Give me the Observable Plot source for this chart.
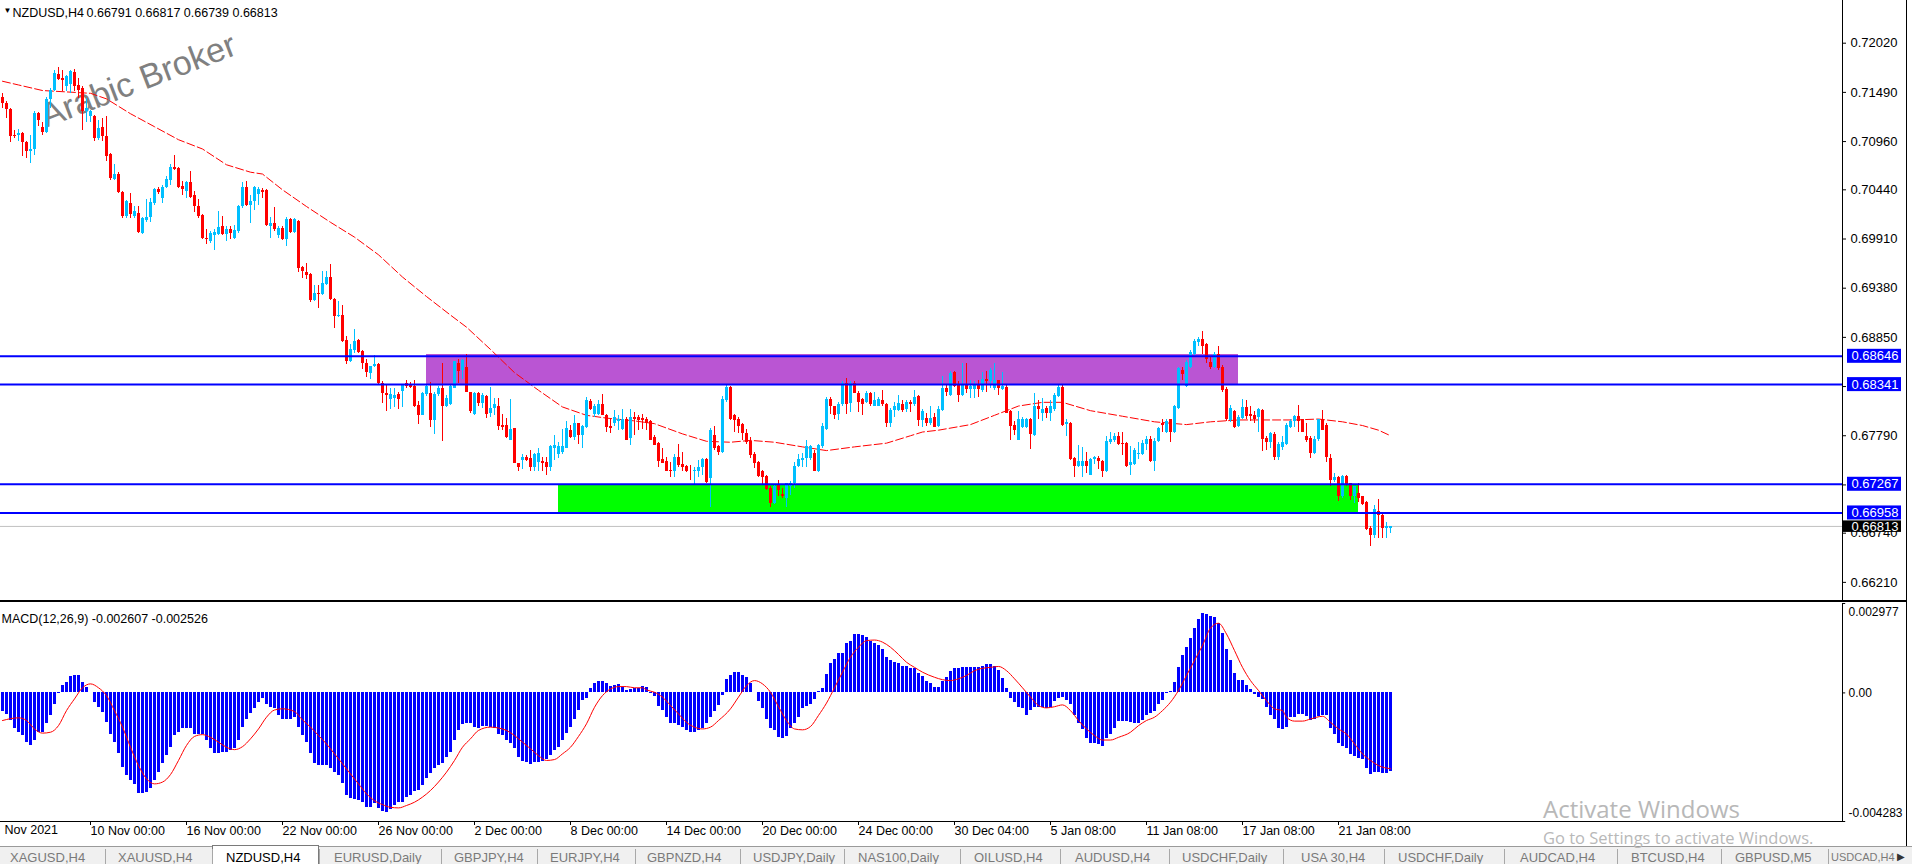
<!DOCTYPE html>
<html><head><meta charset="utf-8">
<script src="https://cdn.jsdelivr.net/npm/d3@7"></script>
<script src="https://cdn.jsdelivr.net/npm/@observablehq/plot@0.6"></script>
<style>
html,body{margin:0;padding:0;background:#fff;}
#wrap{position:relative;width:1912px;height:864px;overflow:hidden;background:#fff;font-family:"Liberation Sans",Arial,sans-serif;}
#main{position:absolute;left:0;top:0;}
#macd{position:absolute;left:0;top:600px;}
#main svg,#macd svg{display:block;}
.abs{position:absolute;}
.tab{position:absolute;top:850px;font-size:13px;line-height:15px;color:#7a7a7a;white-space:nowrap;}
.sep{position:absolute;top:849px;width:1px;height:15px;background:#a8a8a8;}
.win{position:absolute;font-family:"Open Sans","Liberation Sans",sans-serif;color:#b8b8b8;white-space:nowrap;}
</style></head>
<body><div id="wrap">
<div id="main"></div>
<div id="macd"></div>
</div>
<script>
// ---------------- DATA ----------------
const symbolTitle = "NZDUSD,H4";
const lastOHLC = "0.66791 0.66817 0.66739 0.66813";
const macdTitle = "MACD(12,26,9) -0.002607 -0.002526";
const watermark = "Arabic Broker";

const open = [
0.7144,0.7137,0.7131,0.7103,0.7103,0.7105,0.7095,0.7085,0.7087,0.7126,
0.7111,0.7106,0.7141,0.7151,0.7168,0.7164,0.7155,0.7157,0.7170,0.7156,
0.7153,0.7128,0.7123,0.7123,0.7099,0.7111,0.7101,0.7082,0.7055,0.7060,
0.7041,0.7015,0.7029,0.7015,0.7018,0.6997,0.7011,0.7014,0.7029,0.7044,
0.7035,0.7047,0.7054,0.7068,0.7067,0.7048,0.7042,0.7052,0.7038,0.7026,
0.7016,0.6992,0.6988,0.6995,0.6996,0.7004,0.6996,0.7001,0.6992,0.6999,
0.7026,0.7046,0.7027,0.7031,0.7039,0.7043,0.7043,0.7005,0.7008,0.6995,
0.7002,0.6990,0.7012,0.6998,0.7010,0.6960,0.6955,0.6953,0.6925,0.6932,
0.6931,0.6942,0.6950,0.6926,0.6907,0.6909,0.6882,0.6859,0.6871,0.6882,
0.6870,0.6857,0.6846,0.6854,0.6856,0.6835,0.6825,0.6818,0.6819,0.6823,
0.6827,0.6835,0.6833,0.6832,0.6812,0.6801,0.6823,0.6825,0.6795,0.6823,
0.6830,0.6810,0.6813,0.6830,0.6857,0.6849,0.6853,0.6826,0.6802,0.6824,
0.6814,0.6821,0.6803,0.6808,0.6811,0.6790,0.6790,0.6774,0.6787,0.6749,
0.6752,0.6756,0.6754,0.6745,0.6750,0.6751,0.6750,0.6745,0.6765,0.6759,
0.6761,0.6765,0.6785,0.6777,0.6792,0.6779,0.6788,0.6816,0.6802,0.6802,
0.6813,0.6801,0.6789,0.6792,0.6794,0.6786,0.6797,0.6776,0.6799,0.6799,
0.6798,0.6797,0.6794,0.6777,0.6771,0.6753,0.6751,0.6742,0.6740,0.6756,
0.6748,0.6746,0.6741,0.6740,0.6741,0.6745,0.6753,0.6733,0.6779,0.6767,
0.6761,0.6817,0.6831,0.6801,0.6797,0.6791,0.6781,0.6773,0.6759,0.6750,
0.6741,0.6735,0.6722,0.6706,0.6725,0.6716,0.6711,0.6724,0.6727,0.6746,
0.6752,0.6754,0.6755,0.6760,0.6741,0.6767,0.6786,0.6818,0.6810,0.6802,
0.6813,0.6835,0.6814,0.6835,0.6825,0.6818,0.6815,0.6825,0.6811,0.6811,
0.6817,0.6813,0.6792,0.6806,0.6806,0.6813,0.6807,0.6815,0.6813,0.6821,
0.6795,0.6798,0.6792,0.6799,0.6789,0.6806,0.6830,0.6822,0.6847,0.6834,
0.6822,0.6834,0.6829,0.6829,0.6833,0.6828,0.6840,0.6837,0.6830,0.6838,
0.6829,0.6831,0.6805,0.6790,0.6774,0.6788,0.6788,0.6797,0.6779,0.6810,
0.6803,0.6808,0.6803,0.6807,0.6821,0.6831,0.6791,0.6792,0.6754,0.6746,
0.6746,0.6751,0.6736,0.6753,0.6755,0.6751,0.6740,0.6772,0.6774,0.6778,
0.6771,0.6771,0.6747,0.6748,0.6759,0.6759,0.6770,0.6775,0.6751,0.6773,
0.6792,0.6783,0.6796,0.6782,0.6808,0.6849,0.6832,0.6853,0.6867,0.6880,
0.6883,0.6877,0.6858,0.6853,0.6867,0.6853,0.6829,0.6795,0.6805,0.6789,
0.6798,0.6809,0.6802,0.6801,0.6799,0.6806,0.6776,0.6772,0.6780,0.6756,
0.6766,0.6770,0.6788,0.6794,0.6800,0.6796,0.6778,0.6776,0.6760,0.6775,
0.6796,0.6790,0.6755,0.6731,0.6734,0.6714,0.6735,0.6727,0.6713,0.6717,
0.6713,0.6707,0.6679,0.6671,0.6697,0.6693,0.6679,0.66791];

const high = [
0.7148,0.7139,0.7132,0.7108,0.7109,0.7106,0.7096,0.7103,0.7128,0.7127,
0.7117,0.7144,0.7153,0.7173,0.7176,0.7173,0.7167,0.7173,0.7174,0.7164,
0.7155,0.7142,0.7130,0.7124,0.7119,0.7121,0.7123,0.7083,0.7071,0.7063,
0.7042,0.7033,0.7040,0.7026,0.7026,0.7014,0.7034,0.7035,0.7045,0.7047,
0.7049,0.7058,0.7071,0.7081,0.7068,0.7053,0.7053,0.7064,0.7042,0.7034,
0.7017,0.7001,0.6999,0.7001,0.7021,0.7015,0.7004,0.7005,0.7006,0.7027,
0.7052,0.7053,0.7038,0.7048,0.7046,0.7045,0.7044,0.7014,0.7025,0.7005,
0.7004,0.7014,0.7013,0.7013,0.7011,0.6961,0.6965,0.6954,0.6941,0.6941,
0.6956,0.6956,0.6964,0.6927,0.6924,0.6919,0.6886,0.6877,0.6894,0.6883,
0.6871,0.6861,0.6854,0.6866,0.6857,0.6837,0.6834,0.6830,0.6830,0.6826,
0.6834,0.6839,0.6836,0.6838,0.6816,0.6826,0.6834,0.6836,0.6826,0.6832,
0.6857,0.6822,0.6834,0.6859,0.6861,0.6861,0.6867,0.6826,0.6826,0.6826,
0.6824,0.6822,0.6831,0.6819,0.6819,0.6802,0.6798,0.6818,0.6787,0.6749,
0.6759,0.6758,0.6763,0.6760,0.6765,0.6756,0.6756,0.6768,0.6779,0.6772,
0.6786,0.6794,0.6790,0.6801,0.6792,0.6790,0.6820,0.6818,0.6813,0.6817,
0.6823,0.6802,0.6797,0.6806,0.6801,0.6807,0.6799,0.6807,0.6804,0.6801,
0.6802,0.6799,0.6795,0.6779,0.6772,0.6765,0.6756,0.6750,0.6759,0.6770,
0.6761,0.6747,0.6747,0.6745,0.6752,0.6755,0.6754,0.6787,0.6789,0.6769,
0.6821,0.6834,0.6832,0.6802,0.6799,0.6792,0.6786,0.6777,0.6761,0.6751,
0.6742,0.6736,0.6724,0.6726,0.6731,0.6722,0.6728,0.6730,0.6750,0.6759,
0.6760,0.6774,0.6769,0.6763,0.6770,0.6792,0.6820,0.6820,0.6811,0.6815,
0.6837,0.6841,0.6837,0.6837,0.6827,0.6819,0.6827,0.6826,0.6826,0.6820,
0.6828,0.6814,0.6808,0.6815,0.6822,0.6817,0.6817,0.6817,0.6828,0.6822,
0.6807,0.6803,0.6810,0.6803,0.6811,0.6843,0.6833,0.6848,0.6848,0.6837,
0.6857,0.6857,0.6838,0.6837,0.6839,0.6847,0.6848,0.6851,0.6857,0.6838,
0.6847,0.6833,0.6806,0.6794,0.6805,0.6799,0.6798,0.6798,0.6824,0.6817,
0.6819,0.6811,0.6817,0.6824,0.6833,0.6833,0.6796,0.6793,0.6756,0.6769,
0.6766,0.6761,0.6754,0.6757,0.6757,0.6752,0.6778,0.6782,0.6781,0.6782,
0.6782,0.6772,0.6767,0.6765,0.6772,0.6774,0.6778,0.6778,0.6776,0.6788,
0.6796,0.6796,0.6797,0.6812,0.6853,0.6853,0.6860,0.6871,0.6883,0.6885,
0.6891,0.6878,0.6864,0.6869,0.6875,0.6855,0.6831,0.6812,0.6806,0.6801,
0.6818,0.6817,0.6810,0.6805,0.6808,0.6807,0.6778,0.6783,0.6782,0.6772,
0.6778,0.6792,0.6796,0.6801,0.6812,0.6797,0.6792,0.6778,0.6778,0.6797,
0.6806,0.6792,0.6759,0.6738,0.6735,0.6736,0.6736,0.6727,0.6724,0.6727,
0.6714,0.6708,0.6681,0.6704,0.6710,0.6694,0.6686,0.66817];

const low = [
0.7132,0.7121,0.7095,0.7099,0.7096,0.7080,0.7078,0.7072,0.7081,0.7112,
0.7103,0.7105,0.7132,0.7150,0.7162,0.7150,0.7150,0.7148,0.7150,0.7142,
0.7108,0.7117,0.7117,0.7096,0.7097,0.7096,0.7075,0.7054,0.7054,0.7040,
0.7013,0.7013,0.7013,0.7013,0.6997,0.6996,0.7009,0.7009,0.7027,0.7039,
0.7029,0.7045,0.7049,0.7065,0.7045,0.7038,0.7035,0.7035,0.7020,0.7013,
0.6991,0.6985,0.6986,0.6979,0.6995,0.6995,0.6988,0.6990,0.6991,0.6997,
0.7024,0.7026,0.7008,0.7022,0.7027,0.7035,0.7004,0.6992,0.6999,0.6992,
0.6989,0.6983,0.6997,0.6997,0.6955,0.6948,0.6947,0.6923,0.6924,0.6916,
0.6930,0.6941,0.6925,0.6895,0.6906,0.6880,0.6856,0.6858,0.6868,0.6868,
0.6850,0.6842,0.6840,0.6853,0.6834,0.6814,0.6805,0.6807,0.6809,0.6807,
0.6809,0.6830,0.6830,0.6809,0.6791,0.6801,0.6821,0.6788,0.6780,0.6821,
0.6773,0.6809,0.6812,0.6830,0.6835,0.6840,0.6826,0.6803,0.6801,0.6811,
0.6808,0.6798,0.6799,0.6801,0.6785,0.6785,0.6776,0.6774,0.6749,0.6741,
0.6743,0.6751,0.6740,0.6741,0.6741,0.6740,0.6736,0.6740,0.6752,0.6754,
0.6759,0.6765,0.6776,0.6774,0.6770,0.6765,0.6787,0.6806,0.6799,0.6801,
0.6801,0.6783,0.6781,0.6789,0.6785,0.6785,0.6774,0.6768,0.6779,0.6785,
0.6786,0.6785,0.6774,0.6769,0.6745,0.6749,0.6741,0.6734,0.6734,0.6745,
0.6740,0.6739,0.6731,0.6726,0.6734,0.6736,0.6727,0.6702,0.6763,0.6758,
0.6760,0.6815,0.6795,0.6783,0.6781,0.6774,0.6770,0.6754,0.6744,0.6734,
0.6725,0.6720,0.6702,0.6705,0.6713,0.6711,0.6702,0.6715,0.6722,0.6745,
0.6745,0.6745,0.6752,0.6740,0.6739,0.6765,0.6785,0.6802,0.6796,0.6795,
0.6810,0.6802,0.6804,0.6824,0.6804,0.6801,0.6814,0.6810,0.6810,0.6810,
0.6811,0.6788,0.6788,0.6799,0.6805,0.6804,0.6804,0.6804,0.6811,0.6789,
0.6788,0.6789,0.6790,0.6788,0.6788,0.6805,0.6821,0.6821,0.6831,0.6815,
0.6821,0.6824,0.6819,0.6819,0.6820,0.6826,0.6826,0.6830,0.6828,0.6822,
0.6828,0.6803,0.6774,0.6779,0.6774,0.6787,0.6787,0.6764,0.6778,0.6797,
0.6794,0.6798,0.6794,0.6805,0.6820,0.6789,0.6778,0.6752,0.6734,0.6745,
0.6734,0.6738,0.6736,0.6748,0.6743,0.6734,0.6739,0.6770,0.6772,0.6769,
0.6758,0.6745,0.6736,0.6747,0.6753,0.6758,0.6763,0.6750,0.6740,0.6772,
0.6783,0.6781,0.6772,0.6781,0.6807,0.6839,0.6831,0.6851,0.6866,0.6875,
0.6867,0.6857,0.6850,0.6851,0.6849,0.6826,0.6794,0.6793,0.6787,0.6788,
0.6797,0.6796,0.6794,0.6792,0.6783,0.6762,0.6763,0.6765,0.6752,0.6752,
0.6763,0.6769,0.6787,0.6788,0.6783,0.6782,0.6772,0.6754,0.6759,0.6773,
0.6785,0.6750,0.6724,0.6729,0.6708,0.6711,0.6724,0.6709,0.6706,0.6707,
0.6704,0.6677,0.6660,0.6668,0.6668,0.6668,0.6668,0.66739];

const close = [
0.7137,0.7131,0.7101,0.7101,0.7105,0.7095,0.7085,0.7087,0.7126,0.7119,
0.7106,0.7141,0.7151,0.7169,0.7163,0.7162,0.7166,0.7171,0.7155,0.7151,
0.7128,0.7132,0.7128,0.7099,0.7110,0.7101,0.7080,0.7056,0.7060,0.7041,
0.7015,0.7031,0.7017,0.7021,0.6998,0.7013,0.7014,0.7030,0.7044,0.7041,
0.7047,0.7055,0.7068,0.7066,0.7046,0.7044,0.7052,0.7036,0.7026,0.7015,
0.6992,0.6990,0.6997,0.6998,0.7003,0.6996,0.7001,0.6997,0.7000,0.7026,
0.7046,0.7027,0.7031,0.7046,0.7044,0.7041,0.7006,0.7008,0.7001,0.7002,
0.6990,0.7012,0.6998,0.7012,0.6959,0.6956,0.6952,0.6925,0.6932,0.6931,
0.6943,0.6950,0.6926,0.6907,0.6909,0.6881,0.6859,0.6872,0.6881,0.6869,
0.6857,0.6847,0.6854,0.6856,0.6835,0.6825,0.6822,0.6823,0.6822,0.6818,
0.6834,0.6832,0.6831,0.6811,0.6801,0.6824,0.6832,0.6795,0.6823,0.6830,
0.6810,0.6819,0.6832,0.6859,0.6848,0.6860,0.6826,0.6805,0.6825,0.6814,
0.6822,0.6802,0.6808,0.6813,0.6789,0.6788,0.6777,0.6786,0.6749,0.6745,
0.6756,0.6752,0.6745,0.6759,0.6760,0.6749,0.6745,0.6767,0.6768,0.6767,
0.6767,0.6787,0.6777,0.6792,0.6779,0.6789,0.6817,0.6807,0.6811,0.6813,
0.6801,0.6788,0.6787,0.6799,0.6797,0.6797,0.6774,0.6799,0.6796,0.6795,
0.6795,0.6792,0.6774,0.6769,0.6751,0.6749,0.6741,0.6741,0.6756,0.6747,
0.6745,0.6741,0.6740,0.6742,0.6745,0.6753,0.6729,0.6785,0.6765,0.6761,
0.6818,0.6831,0.6796,0.6795,0.6789,0.6781,0.6772,0.6758,0.6749,0.6735,
0.6734,0.6721,0.6706,0.6724,0.6720,0.6713,0.6727,0.6728,0.6746,0.6753,
0.6755,0.6767,0.6767,0.6741,0.6768,0.6789,0.6818,0.6810,0.6801,0.6813,
0.6835,0.6813,0.6835,0.6825,0.6815,0.6813,0.6825,0.6813,0.6817,0.6818,
0.6813,0.6792,0.6806,0.6810,0.6814,0.6806,0.6815,0.6813,0.6820,0.6795,
0.6805,0.6792,0.6798,0.6788,0.6807,0.6830,0.6826,0.6846,0.6832,0.6822,
0.6834,0.6829,0.6832,0.6834,0.6829,0.6840,0.6837,0.6849,0.6838,0.6830,
0.6832,0.6803,0.6789,0.6785,0.6797,0.6797,0.6797,0.6780,0.6810,0.6807,
0.6807,0.6803,0.6810,0.6822,0.6831,0.6790,0.6793,0.6753,0.6746,0.6751,
0.6751,0.6746,0.6753,0.6756,0.6751,0.6740,0.6773,0.6775,0.6778,0.6770,
0.6770,0.6746,0.6750,0.6763,0.6760,0.6771,0.6775,0.6751,0.6773,0.6787,
0.6790,0.6794,0.6782,0.6811,0.6851,0.6845,0.6858,0.6869,0.6881,0.6883,
0.6875,0.6861,0.6853,0.6867,0.6851,0.6828,0.6796,0.6808,0.6788,0.6799,
0.6809,0.6800,0.6800,0.6796,0.6807,0.6775,0.6772,0.6781,0.6756,0.6770,
0.6772,0.6790,0.6794,0.6800,0.6794,0.6783,0.6774,0.6760,0.6775,0.6796,
0.6785,0.6756,0.6731,0.6734,0.6714,0.6735,0.6725,0.6713,0.6724,0.6711,
0.6705,0.6678,0.6671,0.6699,0.6693,0.6679,0.6681,0.66813];

// dashed moving average (bar index, price)
const maIdx = [0,4,10,22,26,32,38,44,50,56,62,65,70,76,82,88,94,100,106,112,116,122,128,134,140,146,151,158,163,170,176,182,187,193,200,206,213,221,227,230,234,242,248,254,260,265,272,280,288,296,302,309,317,323,329,335,340,344,347];
const maVal = [0.7161,0.7157,0.7151,0.7148,0.7142,0.7126,0.7112,0.7098,0.7088,0.7071,0.7063,0.7061,0.7044,0.7026,0.7009,0.6993,0.6974,0.6950,0.6929,0.6909,0.6896,0.6872,0.6847,0.6828,0.6810,0.6801,0.6798,0.6795,0.6792,0.6781,0.6773,0.6772,0.6774,0.6772,0.6767,0.6763,0.6767,0.6771,0.6779,0.6783,0.6785,0.6791,0.6801,0.6811,0.6815,0.6815,0.6806,0.6800,0.6794,0.6791,0.6794,0.6796,0.6796,0.6796,0.6797,0.6794,0.6790,0.6785,0.6779];

// horizontal levels, zones, current price
const levels = [0.68646, 0.68341, 0.67267, 0.66958];
const currentPrice = 0.66813;
const zoneStart = [106, 139];
const zoneEnd = [309, 339];
const zoneTop = [0.68665, 0.67267];
const zoneBottom = [0.68330, 0.66958];
const zoneColor = ["#BA55D3", "#00FF00"];
const priceTicks = [0.72020,0.71490,0.70960,0.70440,0.69910,0.69380,0.68850,0.68320,0.67790,0.67260,0.66740,0.66210];

// MACD histogram (main line), one per bar
const macdHist = [
-0.00062,-0.00073,-0.00092,-0.00118,-0.00131,-0.00142,-0.00164,-0.00175,-0.00157,-0.00131,
-0.00131,-0.00103,-0.00075,-0.00037,-0.00001,0.00024,0.00036,0.00054,0.00058,0.00058,
0.00036,0.00017,0.00002,-0.00031,-0.00048,-0.00064,-0.00098,-0.00137,-0.00164,-0.00201,
-0.00248,-0.00275,-0.00292,-0.00305,-0.00334,-0.00336,-0.00331,-0.00320,-0.00292,-0.00264,
-0.00236,-0.00209,-0.00181,-0.00142,-0.00131,-0.00120,-0.00120,-0.00120,-0.00137,-0.00140,
-0.00140,-0.00159,-0.00186,-0.00203,-0.00203,-0.00198,-0.00198,-0.00192,-0.00186,-0.00159,
-0.00114,-0.00087,-0.00070,-0.00053,-0.00033,-0.00020,-0.00037,-0.00048,-0.00053,-0.00075,
-0.00087,-0.00087,-0.00087,-0.00081,-0.00114,-0.00142,-0.00164,-0.00203,-0.00236,-0.00242,
-0.00242,-0.00242,-0.00253,-0.00264,-0.00275,-0.00303,-0.00342,-0.00353,-0.00355,-0.00359,
-0.00364,-0.00381,-0.00381,-0.00370,-0.00386,-0.00394,-0.00397,-0.00390,-0.00375,-0.00364,
-0.00364,-0.00347,-0.00342,-0.00329,-0.00325,-0.00309,-0.00286,-0.00270,-0.00253,-0.00242,
-0.00236,-0.00214,-0.00198,-0.00159,-0.00125,-0.00105,-0.00101,-0.00101,-0.00114,-0.00117,
-0.00112,-0.00112,-0.00114,-0.00120,-0.00137,-0.00142,-0.00157,-0.00170,-0.00186,-0.00214,
-0.00228,-0.00231,-0.00240,-0.00231,-0.00231,-0.00229,-0.00223,-0.00209,-0.00192,-0.00181,
-0.00159,-0.00134,-0.00114,-0.00089,-0.00059,-0.00026,-0.00020,0.00013,0.00030,0.00039,
0.00039,0.00032,0.00021,0.00024,0.00027,0.00017,0.00008,0.00011,0.00016,0.00016,
0.00021,0.00017,-0.00001,-0.00012,-0.00046,-0.00059,-0.00081,-0.00101,-0.00103,-0.00109,
-0.00114,-0.00125,-0.00131,-0.00131,-0.00125,-0.00117,-0.00103,-0.00083,-0.00061,-0.00042,
-0.00009,0.00044,0.00058,0.00069,0.00069,0.00058,0.00050,0.00030,0.00002,-0.00029,
-0.00053,-0.00087,-0.00118,-0.00125,-0.00148,-0.00153,-0.00145,-0.00120,-0.00103,-0.00081,
-0.00053,-0.00046,-0.00039,-0.00023,0.00006,0.00013,0.00061,0.00097,0.00110,0.00130,
0.00130,0.00163,0.00172,0.00193,0.00193,0.00191,0.00183,0.00172,0.00163,0.00158,
0.00143,0.00117,0.00108,0.00102,0.00099,0.00088,0.00088,0.00080,0.00080,0.00065,
0.00054,0.00039,0.00032,0.00017,0.00017,0.00038,0.00050,0.00072,0.00080,0.00082,
0.00083,0.00083,0.00083,0.00083,0.00085,0.00088,0.00093,0.00094,0.00088,0.00074,
0.00047,0.00013,-0.00018,-0.00031,-0.00048,-0.00053,-0.00075,-0.00059,-0.00050,-0.00050,
-0.00050,-0.00053,-0.00050,-0.00028,-0.00020,-0.00014,-0.00026,-0.00039,-0.00075,-0.00103,
-0.00123,-0.00153,-0.00170,-0.00170,-0.00172,-0.00179,-0.00153,-0.00137,-0.00120,-0.00094,
-0.00094,-0.00094,-0.00098,-0.00103,-0.00103,-0.00092,-0.00075,-0.00070,-0.00062,-0.00037,
-0.00026,-0.00003,0.00006,0.00036,0.00085,0.00124,0.00152,0.00180,0.00216,0.00243,
0.00263,0.00261,0.00255,0.00250,0.00230,0.00199,0.00143,0.00108,0.00065,0.00041,
0.00041,0.00024,0.00010,-0.00006,-0.00014,-0.00023,-0.00050,-0.00075,-0.00090,-0.00120,
-0.00123,-0.00114,-0.00083,-0.00081,-0.00072,-0.00072,-0.00079,-0.00092,-0.00087,-0.00079,
-0.00075,-0.00075,-0.00117,-0.00137,-0.00168,-0.00179,-0.00186,-0.00205,-0.00212,-0.00220,
-0.00223,-0.00253,-0.00272,-0.00264,-0.00264,-0.00268,-0.00268,-0.002607];

// MACD signal line (bar index, value)
const sigIdx = [0,4,6,8,10,12,14,16,18,20,22,24,26,28,30,32,34,36,38,40,42,44,46,48,50,52,54,56,58,60,62,64,66,68,70,73,75,77,79,81,83,85,87,89,91,93,95,97,99,101,103,105,107,109,111,113,115,117,119,122,124,126,128,130,132,134,136,138,140,142,144,146,148,150,152,154,156,158,160,161,163,165,167,169,171,173,175,177,179,182,184,186,188,190,192,194,196,198,200,202,204,206,208,210,212,214,216,218,220,222,224,226,228,230,233,235,237,239,241,243,245,247,249,251,253,255,257,259,261,263,265,267,269,271,273,275,277,279,282,284,286,288,290,292,294,296,298,300,302,304,306,308,310,312,314,316,318,320,321,323,325,327,330,332,334,336,338,340,342,344,347];
const sigVal = [-0.00092,-0.00083,-0.00092,-0.00120,-0.00134,-0.00131,-0.00109,-0.00059,-0.00020,0.00017,0.00030,0.00017,-0.00009,-0.00059,-0.00114,-0.00181,-0.00242,-0.00286,-0.00303,-0.00297,-0.00272,-0.00225,-0.00175,-0.00145,-0.00139,-0.00148,-0.00164,-0.00181,-0.00189,-0.00179,-0.00153,-0.00120,-0.00081,-0.00057,-0.00053,-0.00062,-0.00090,-0.00114,-0.00142,-0.00170,-0.00203,-0.00236,-0.00270,-0.00303,-0.00336,-0.00359,-0.00372,-0.00381,-0.00383,-0.00375,-0.00364,-0.00347,-0.00325,-0.00297,-0.00264,-0.00225,-0.00181,-0.00153,-0.00125,-0.00114,-0.00117,-0.00125,-0.00142,-0.00164,-0.00186,-0.00209,-0.00225,-0.00222,-0.00203,-0.00181,-0.00145,-0.00103,-0.00048,-0.00009,0.00013,0.00021,0.00021,0.00017,0.00017,0.00010,0.00002,-0.00014,-0.00042,-0.00070,-0.00098,-0.00114,-0.00120,-0.00114,-0.00092,-0.00053,-0.00014,0.00024,0.00041,0.00030,0.00002,-0.00046,-0.00092,-0.00120,-0.00123,-0.00112,-0.00075,-0.00034,0.00017,0.00069,0.00119,0.00152,0.00174,0.00176,0.00169,0.00152,0.00128,0.00102,0.00085,0.00069,0.00052,0.00044,0.00041,0.00047,0.00058,0.00074,0.00082,0.00085,0.00088,0.00074,0.00047,0.00017,-0.00014,-0.00042,-0.00050,-0.00046,-0.00040,-0.00059,-0.00092,-0.00120,-0.00142,-0.00157,-0.00157,-0.00148,-0.00131,-0.00109,-0.00092,-0.00081,-0.00059,-0.00031,0.00008,0.00058,0.00108,0.00158,0.00216,0.00232,0.00196,0.00141,0.00085,0.00041,0.00008,-0.00026,-0.00053,-0.00059,-0.00081,-0.00094,-0.00094,-0.00087,-0.00078,-0.00098,-0.00120,-0.00137,-0.00170,-0.00203,-0.00225,-0.00242,-0.002526];
const macdMax = 0.002977, macdMin = -0.004283;

// time axis
const timeTicks = [22,46,70,94,118,142,166,190,214,238,262,286,310,334];
const timeLabels = ["10 Nov 00:00","16 Nov 00:00","22 Nov 00:00","26 Nov 00:00","2 Dec 00:00","8 Dec 00:00","14 Dec 00:00","20 Dec 00:00","24 Dec 00:00","30 Dec 04:00","5 Jan 08:00","11 Jan 08:00","17 Jan 08:00","21 Jan 08:00"];
const firstTimeLabel = "Nov 2021";

// terminal tabs
const tabNames = ["XAGUSD,H4","XAUUSD,H4","NZDUSD,H4","EURUSD,Daily","GBPJPY,H4","EURJPY,H4","GBPNZD,H4","USDJPY,Daily","NAS100,Daily","OILUSD,H4","AUDUSD,H4","USDCHF,Daily","USA 30,H4","USDCHF,Daily","AUDCAD,H4","BTCUSD,H4","GBPUSD,M5","USDCAD,H4"];
const tabX = [10,118,226,334,454,550,647,753,858,974,1075,1182,1301,1398,1520,1631,1735,1831];
const tabSeps = [105,212,319,441,537,635,740,844,960,1060,1169,1283,1384,1504,1617,1721,1828];

// ---------------- CHART ----------------
const FONT = "'Liberation Sans', Arial, sans-serif";
const UP = "#00BFFF", DN = "#FF0000";
const candles = open.map((o, i) => ({i, o, h: high[i], l: low[i], c: close[i], col: close[i] >= o ? UP : DN}));
const ma = maIdx.map((x, k) => ({x, y: maVal[k]}));
const zones = zoneStart.map((s, k) => ({x1: s, x2: zoneEnd[k], y1: zoneBottom[k], y2: zoneTop[k], fill: zoneColor[k]}));
const pxPrice = 0.0001078; // price per pixel
const tagged = levels.map(v => ({v, y1: v - 7 * pxPrice, y2: v + 7 * pxPrice}));
const xDom = [-0.5, 460];
const LX = 461.25; // start of label boxes in the right margin

const mainChart = Plot.plot({
  width: 1912, height: 600,
  marginLeft: 0, marginRight: 70, marginTop: 0, marginBottom: 0,
  x: {type: "linear", domain: xDom, axis: null},
  y: {type: "linear", domain: [0.660146, 0.724801], axis: null},
  color: {type: "identity"},
  style: {fontFamily: FONT, fontSize: "13px", color: "black", background: "white", overflow: "visible"},
  marks: [
    Plot.rect(zones, {x1: "x1", x2: "x2", y1: "y1", y2: "y2", fill: "fill", shapeRendering: "crispEdges"}),
    Plot.ruleY([currentPrice], {stroke: "#C0C0C0", strokeWidth: 1}),
    Plot.text([{x: 34, y: 0.71617, t: watermark}], {x: "x", y: "y", text: "t", rotate: -21, fontSize: 34, fill: "#808080", textAnchor: "middle", fontFamily: FONT}),
    Plot.line(ma, {x: "x", y: "y", stroke: "#FF0000", strokeWidth: 1, strokeDasharray: "8,3"}),
    Plot.ruleX(candles, {x: "i", y1: "l", y2: "h", stroke: "col", strokeWidth: 1, shapeRendering: "crispEdges"}),
    Plot.ruleX(candles, {x: "i", y1: "o", y2: "c", stroke: "col", strokeWidth: 3, shapeRendering: "crispEdges"}),
    Plot.ruleY(levels, {stroke: "#0000FF", strokeWidth: 2}),
    Plot.ruleX([xDom[1]], {stroke: "black", strokeWidth: 1}),
    Plot.axisY({anchor: "right", ticks: priceTicks, tickFormat: d3.format(".5f"), tickSize: 3, tickPadding: 5, fontSize: 13}),
    Plot.rect(tagged, {x1: LX, x2: 474.75, y1: "y1", y2: "y2", fill: "#0000FF"}),
    Plot.text(tagged, {x: LX + 1, y: "v", text: d => d3.format(".5f")(d.v), fill: "white", textAnchor: "start", fontSize: 13}),
    Plot.rect([currentPrice], {x1: 460.25, x2: 474.75, y1: d => d - 6 * pxPrice, y2: d => d + 5.5 * pxPrice, fill: "black"}),
    Plot.text([currentPrice], {x: LX + 1, y: d => d, text: d => d3.format(".5f")(d), fill: "white", textAnchor: "start", fontSize: 13}),
    Plot.text(["\u25BC"], {frameAnchor: "top-left", dx: 3, dy: 7, fontSize: 8, fill: "black"}),
    Plot.text([symbolTitle], {frameAnchor: "top-left", dx: 12, dy: 8, textAnchor: "start", fontSize: 12.5, fill: "black"}),
    Plot.text([lastOHLC], {frameAnchor: "top-left", dx: 86, dy: 8, textAnchor: "start", fontSize: 12.5, fill: "black"})
  ]
});
document.getElementById("main").appendChild(mainChart);

const hist = macdHist.map((v, i) => ({i, v}));
const sig = sigIdx.map((x, k) => ({x, y: sigVal[k]}));
const labelOf = new Map(timeTicks.map((t, k) => [t, timeLabels[k]]));

const macdChart = Plot.plot({
  width: 1912, height: 246,
  marginLeft: 0, marginRight: 70, marginTop: 3, marginBottom: 25,
  x: {type: "linear", domain: xDom, axis: null},
  y: {type: "linear", domain: [macdMin, macdMax], axis: null},
  style: {fontFamily: FONT, fontSize: "13px", color: "black", background: "white", overflow: "visible"},
  marks: [
    Plot.ruleX(hist, {x: "i", y1: 0, y2: "v", stroke: "#0000FF", strokeWidth: 3, shapeRendering: "crispEdges"}),
    Plot.line(sig, {x: "x", y: "y", stroke: "#FF0000", strokeWidth: 1, curve: "monotone-x"}),
    Plot.ruleY([macdMin], {stroke: "black", strokeWidth: 1}),
    Plot.ruleX([xDom[1]], {stroke: "black", strokeWidth: 1}),
    Plot.ruleY([macdMax, 0, macdMin], {x1: xDom[1], x2: xDom[1] + 0.8, stroke: "black"}),
    Plot.text([macdMax], {x: 461.5, y: d => d, text: d => d.toFixed(6), textAnchor: "start", dy: 9, fontSize: 12, fill: "black"}),
    Plot.text([0], {x: 461.5, y: d => d, text: () => "0.00", textAnchor: "start", fontSize: 12, fill: "black"}),
    Plot.text([macdMin], {x: 461.5, y: d => d, text: d => d.toFixed(6), textAnchor: "start", dy: -8, fontSize: 12, fill: "black"}),
    Plot.text([macdTitle], {frameAnchor: "top-left", dx: 1, dy: 11, textAnchor: "start", fontSize: 12.5, fill: "black"}),
    Plot.axisX({anchor: "bottom", ticks: timeTicks, tickFormat: d => labelOf.get(d), tickSize: 4, tickPadding: 1, textAnchor: "start", fontSize: 12.5}),
    Plot.text([firstTimeLabel], {x: 0.5, frameAnchor: "bottom", dy: 12, textAnchor: "start", fontSize: 12.5, fill: "black"})
  ]
});
document.getElementById("macd").appendChild(macdChart);

// window chrome: separators, frame, tabs, OS watermark
const wrap = document.getElementById("wrap");
function addDiv(css, cls, text) {
  const d = document.createElement("div");
  if (cls) d.className = cls;
  d.style.cssText = css;
  if (text) d.textContent = text;
  wrap.appendChild(d);
  return d;
}
addDiv("left:0;top:600px;width:1907px;height:2px;background:#000;", "abs");
addDiv("left:1906px;top:0;width:1px;height:846px;background:#000;", "abs");
addDiv("left:0;top:846px;width:1912px;height:18px;background:#f0f0f0;border-top:1px solid #9a9a9a;box-sizing:border-box;", "abs");
addDiv("left:212px;top:845px;width:107px;height:19px;background:#fff;border:1px solid #7a7a7a;border-bottom:none;box-sizing:border-box;", "abs");
tabSeps.forEach(x => addDiv(`left:${x}px;`, "sep"));
tabNames.forEach((t, k) => {
  const last = k === tabNames.length - 1;
  addDiv(`left:${tabX[k]}px;` + (k === 2 ? "color:#000;" : "") + (last ? "font-size:11px;" : ""), "tab", t);
});
addDiv("left:1897px;top:849px;font-size:10px;color:#333;", "tab", "\u25B6");
addDiv("left:1543px;top:795px;font-size:24px;line-height:28px;", "win", "Activate Windows");
addDiv("left:1543px;top:828px;font-size:16.5px;line-height:20px;", "win", "Go to Settings to activate Windows.");
</script>
</body></html>
